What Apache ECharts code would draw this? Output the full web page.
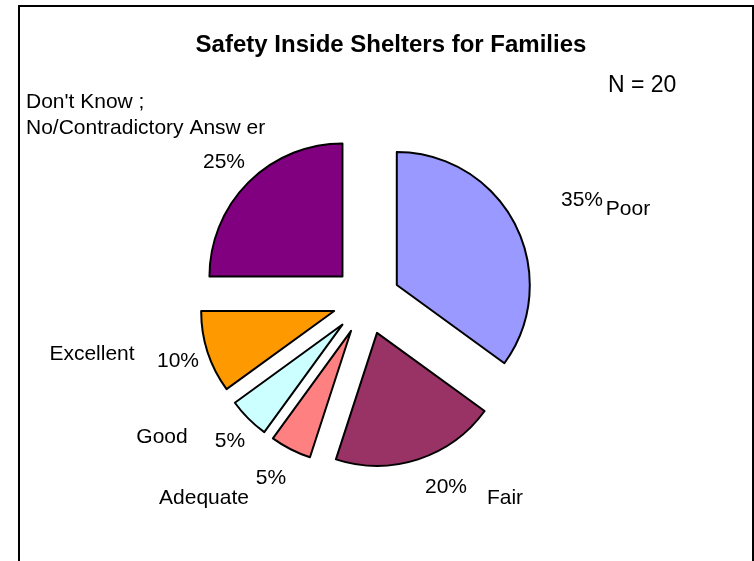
<!DOCTYPE html>
<html>
<head>
<meta charset="utf-8">
<script src="https://cdn.jsdelivr.net/npm/echarts@6/dist/echarts.min.js"></script>
<style>
  html, body { margin: 0; padding: 0; background: #fff; }
  #chart { width: 754px; height: 561px; }
</style>
</head>
<body>
<div id="chart"></div>
<script>
// Survey responses (count of respondents per rating)
const categories = ['Poor', 'Fair', 'Adequate', 'Good', 'Excellent', "Don't Know ;\nNo/Contradictory Answ er"];
const counts = [7, 4, 1, 1, 2, 5];
const sliceColors = ['#9999FF', '#993366', '#FF8080', '#CCFFFF', '#FF9900', '#800080'];
const titleText = 'Safety Inside Shelters for Families';

// Label anchors (pixels) for the percentage and category texts
const pctLabelPos = [[582, 200], [446, 487], [271, 478], [230, 441], [178, 361], [224, 162]];
const nameLabelPos = [[628, 209], [505, 498], [204, 498], [162, 437], [92, 354], [26, 115]];

const total = counts.reduce((a, b) => a + b, 0);
const FONT = '"Liberation Sans", Arial, sans-serif';

const common = {
  type: 'pie',
  center: [366.5, 300.5],
  radius: 133,
  startAngle: 90,
  clockwise: true,
  avoidLabelOverlap: false,
  animation: false,
  labelLine: { show: false },
  emphasis: { disabled: true }
};

// Exploded slices (every wedge pulled out from the centre)
const sliceSeries = Object.assign({}, common, {
  name: 'share',
  selectedMode: 'multiple',
  selectedOffset: 34,
  data: categories.map((name, i) => ({
    name: name,
    value: counts[i],
    selected: true,
    itemStyle: { color: sliceColors[i] }
  })),
  itemStyle: { borderColor: '#000', borderWidth: 2 },
  label: { show: false }
});

// Invisible twin of the pie that only carries a set of labels
function labelSeries(id, formatter, positions, alignFor) {
  return Object.assign({}, common, {
    name: id,
    silent: true,
    selectedMode: false,
    data: categories.map((name, i) => ({ name: name, value: counts[i] })),
    itemStyle: { color: 'rgba(0,0,0,0)', borderWidth: 0 },
    label: {
      show: true,
      fontFamily: FONT,
      fontSize: 21,
      lineHeight: 26,
      color: '#000',
      formatter: formatter
    },
    labelLayout: p => ({
      x: positions[p.dataIndex][0],
      y: positions[p.dataIndex][1],
      align: alignFor(p.dataIndex),
      verticalAlign: 'middle'
    })
  });
}

const chart = echarts.init(document.getElementById('chart'), null, { renderer: 'canvas' });
chart.setOption({
  backgroundColor: '#ffffff',
  title: {
    text: titleText,
    left: 386,
    top: 28,
    textAlign: 'center',
    textStyle: { fontFamily: FONT, fontSize: 24, fontWeight: 'bold', color: '#000' }
  },
  graphic: [
    {
      type: 'rect',
      shape: { x: 19, y: 6, width: 734, height: 620 },
      style: { fill: 'none', stroke: '#000', lineWidth: 2 },
      silent: true
    },
    {
      type: 'text',
      left: 608,
      top: 74,
      style: { text: 'N = ' + total, font: '23px ' + FONT, fill: '#000' },
      silent: true
    }
  ],
  series: [
    sliceSeries,
    labelSeries('percent', p => Math.round(p.value / total * 100) + '%', pctLabelPos, () => 'center'),
    labelSeries('category', p => p.name, nameLabelPos,
      i => (i === categories.length - 1 ? 'left' : 'center'))
  ]
});
</script>
</body>
</html>
